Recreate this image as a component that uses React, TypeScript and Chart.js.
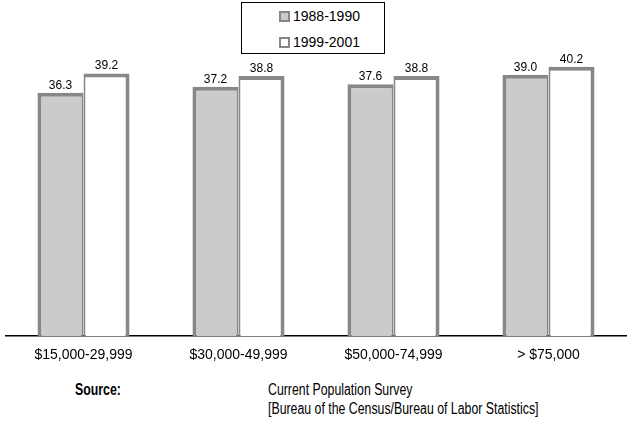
import React, { useEffect, useRef } from "react";
import { Chart, registerables } from "chart.js";

Chart.register(...registerables);

const categories = ["$15,000-29,999", "$30,000-49,999", "$50,000-74,999", "> $75,000"];
const series1Label = "1988-1990";
const series1Values = [36.3, 37.2, 37.6, 39.0];
const series2Label = "1999-2001";
const series2Values = [39.2, 38.8, 38.8, 40.2];
const yMin = 0;
const yMax = 50;

const GRAY_FILL = "#cbcbcb";
const BORDER = "#878787";
const SANS = "'Liberation Sans', Arial, sans-serif";

const valueLabels = {
  id: "valueLabels",
  afterDatasetsDraw(chart: any) {
    const ctx = chart.ctx;
    ctx.save();
    ctx.font = "12px " + SANS;
    ctx.fillStyle = "#000";
    ctx.textAlign = "center";
    ctx.textBaseline = "alphabetic";
    chart.data.datasets.forEach((ds: any, di: number) => {
      const meta = chart.getDatasetMeta(di);
      meta.data.forEach((el: any, i: number) => {
        const v = ds.data[i] as number;
        ctx.fillText(v.toFixed(1), el.x, el.y - 4);
      });
    });
    ctx.restore();
  },
};

export default function App() {
  const canvasRef = useRef<HTMLCanvasElement | null>(null);

  useEffect(() => {
    const canvas = canvasRef.current;
    if (!canvas) return;
    const chart = new Chart(canvas, {
      type: "bar",
      data: {
        labels: categories,
        datasets: [
          {
            label: series1Label,
            data: series1Values,
            backgroundColor: GRAY_FILL,
            borderColor: BORDER,
            borderWidth: { top: 4, left: 4, right: 2, bottom: 0 },
            borderSkipped: false,
            categoryPercentage: 0.594,
            barPercentage: 1,
          },
          {
            label: series2Label,
            data: series2Values,
            backgroundColor: "#ffffff",
            borderColor: BORDER,
            borderWidth: { top: 4, left: 2, right: 4, bottom: 0 },
            borderSkipped: false,
            categoryPercentage: 0.594,
            barPercentage: 1,
          },
        ],
      },
      options: {
        responsive: false,
        animation: false,
        layout: { padding: { left: 6, right: 6, top: 1, bottom: 3 } },
        plugins: {
          legend: { display: false },
          tooltip: { enabled: false },
          title: { display: false },
        },
        scales: {
          x: {
            grid: { display: false, drawTicks: false },
            border: { display: true, color: "#000", width: 1.5 },
            ticks: {
              color: "#000",
              padding: 11,
              font: { family: SANS, size: 14 },
              maxRotation: 0,
              autoSkip: false,
            },
          },
          y: {
            display: false,
            min: yMin,
            max: yMax,
          },
        },
      },
      plugins: [valueLabels],
    });
    return () => chart.destroy();
  }, []);

  const swatch = (fill: string) => ({
    display: "inline-block",
    width: 11,
    height: 11,
    boxSizing: "border-box" as const,
    border: "2px solid " + BORDER,
    background: fill,
    marginRight: 3,
    verticalAlign: "middle",
  });

  const condensed = {
    position: "absolute" as const,
    top: 381,
    fontFamily: SANS,
    fontSize: 16,
    lineHeight: "18.5px",
    color: "#000",
    whiteSpace: "nowrap" as const,
    transform: "scaleX(0.77)",
    transformOrigin: "0 0",
  };

  return (
    <div style={{ position: "absolute", left: 0, top: 0, width: 632, height: 423, background: "#fff", overflow: "hidden" }}>
      <canvas ref={canvasRef} width={632} height={378} style={{ position: "absolute", left: 0, top: 0, width: 632, height: 378 }} />
      <div
        style={{
          position: "absolute",
          left: 241,
          top: 2,
          width: 144,
          height: 52,
          boxSizing: "border-box",
          border: "1px solid #000",
          background: "#fff",
          fontFamily: SANS,
          fontSize: 14,
          color: "#000",
        }}
      >
        <div style={{ position: "absolute", left: 37, top: 2, height: 20, lineHeight: "20px", whiteSpace: "nowrap" }}>
          <span style={swatch(GRAY_FILL)} />
          <span style={{ verticalAlign: "middle" }}>{series1Label}</span>
        </div>
        <div style={{ position: "absolute", left: 37, top: 28, height: 20, lineHeight: "20px", whiteSpace: "nowrap" }}>
          <span style={swatch("#ffffff")} />
          <span style={{ verticalAlign: "middle" }}>{series2Label}</span>
        </div>
      </div>
      <div style={{ ...condensed, left: 75, fontWeight: "bold" }}>Source:</div>
      <div style={{ ...condensed, left: 268 }}>
        <div>Current Population Survey</div>
        <div>[Bureau of the Census/Bureau of Labor Statistics]</div>
      </div>
    </div>
  );
}
